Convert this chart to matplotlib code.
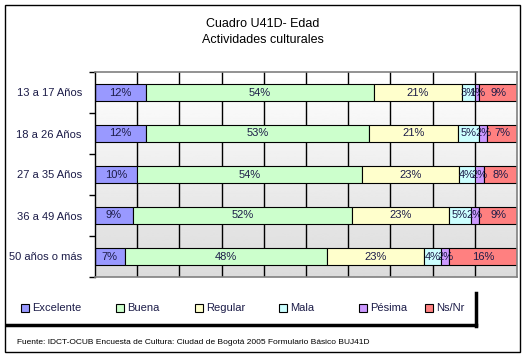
import numpy as np
import matplotlib
matplotlib.use('Agg')
import matplotlib.pyplot as plt
from matplotlib.patches import Rectangle
from matplotlib.lines import Line2D

plt.rcParams['font.family'] = ['Liberation Sans', 'DejaVu Sans']

# data
grupos = ['13 a 17 Años', '18 a 26 Años', '27 a 35 Años', '36 a 49 Años', '50 años o más']
series = ['Excelente', 'Buena', 'Regular', 'Mala', 'Pésima', 'Ns/Nr']
excelente = [12, 12, 10, 9, 7]
buena = [54, 53, 54, 52, 48]
regular = [21, 21, 23, 23, 23]
mala = [3, 5, 4, 5, 4]
pesima = [1, 2, 2, 2, 2]
nsnr = [9, 7, 8, 9, 16]
colores = ['#9999FF', '#CCFFCC', '#FFFFCC', '#CCFFFF', '#CC99FF', '#FF8080']

W, H = 528, 358
txt_col = '#1c1c48'

fig = plt.figure(figsize=(W / 100, H / 100), dpi=100)

def px(x0, y0, x1, y1):
    # pixel box -> figure fraction [l, b, w, h]
    return [x0 / W, 1 - y1 / H, (x1 - x0) / W, (y1 - y0) / H]

ax = fig.add_axes(px(95, 72, 517, 277))

datos = np.array([excelente, buena, regular, mala, pesima, nsnr], dtype=float)
pct = datos / datos.sum(axis=0) * 100   # 100% stacked, like excel
y = np.arange(len(grupos))

# gradient background, white to light gray
grad = np.linspace(1.0, 0.86, 256).reshape(-1, 1)
ax.imshow(grad, cmap='gray', vmin=0, vmax=1, extent=[0, 100, 4.5, -0.5],
          aspect='auto', zorder=0)

for xg in np.arange(10, 100, 10):
    ax.axvline(xg, color='black', lw=1, zorder=1)

left = np.zeros(len(grupos))
for i, nombre in enumerate(series):
    ax.barh(y, pct[i], left=left, height=0.41, color=colores[i],
            edgecolor='black', linewidth=0.8, zorder=2, label=nombre)
    for j in range(len(grupos)):
        ax.text(left[j] + pct[i][j] / 2, y[j], '%d%%' % datos[i][j],
                ha='center', va='center', fontsize=8, color=txt_col, zorder=3)
    left += pct[i]

ax.set_xlim(0, 100)
ax.set_ylim(4.5, -0.5)
ax.set_xticks([])
ax.set_yticks(np.arange(-0.5, 5, 1))
ax.set_yticklabels([])
ax.set_yticks(y, minor=True)
ax.set_yticklabels(grupos, minor=True)
ax.tick_params(axis='y', which='major', length=4, width=1, color='black', direction='out')
ax.tick_params(axis='y', which='minor', length=0, pad=9.5, labelsize=8, labelcolor=txt_col)
for s in ['top', 'right', 'bottom']:
    ax.spines[s].set_color('#808080')
    ax.spines[s].set_linewidth(1.2)
ax.spines['left'].set_color('black')
ax.spines['left'].set_linewidth(1)

fig.text(263 / W, 1 - 24 / H, 'Cuadro U41D- Edad', ha='center', va='center',
         fontsize=9, color='black')
fig.text(263 / W, 1 - 40 / H, 'Actividades culturales', ha='center', va='center',
         fontsize=9, color='black')

# outer frame
fig.patches.append(Rectangle((5 / W, 1 - 352 / H), 515 / W, 347 / H, transform=fig.transFigure,
                             fill=False, edgecolor='black', lw=1))

# legend with excel style shadow
fig.lines.append(Line2D([7 / W, 476 / W], [1 - 325 / H, 1 - 325 / H],
                        transform=fig.transFigure, color='black', lw=2.5))
fig.lines.append(Line2D([476 / W, 476 / W], [1 - 293 / H, 1 - 326 / H],
                        transform=fig.transFigure, color='black', lw=2.5))
leg_x = [25, 120, 199, 283, 363, 429]
for xm, nombre, c in zip(leg_x, series, colores):
    fig.patches.append(Rectangle(((xm - 4) / W, 1 - 312 / H), 8 / W, 8 / H,
                                 transform=fig.transFigure, facecolor=c,
                                 edgecolor='black', lw=0.8))
    fig.text((xm + 7) / W, 1 - 308 / H, nombre, ha='left', va='center',
             fontsize=8, color=txt_col)

fig.text(17 / W, 1 - 342 / H,
         'Fuente: IDCT-OCUB Encuesta de Cultura: Ciudad de Bogotá 2005 Formulario Básico BUJ41D',
         ha='left', va='center', fontsize=6, color='black')

fig.savefig('out.png', dpi=100)
